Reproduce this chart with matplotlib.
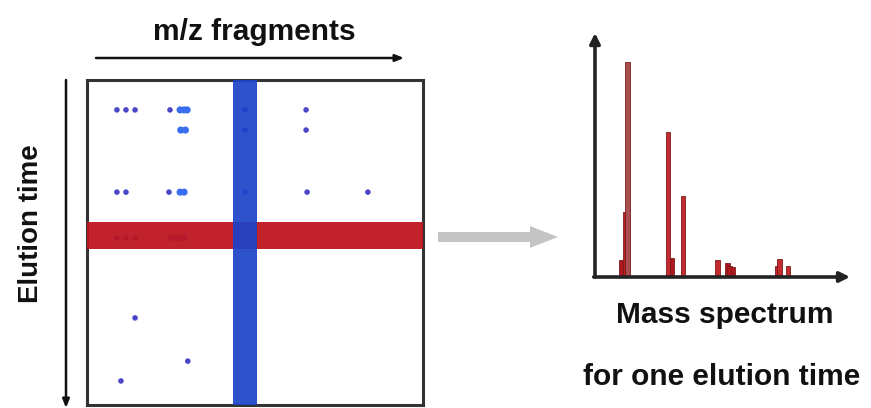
import matplotlib
matplotlib.use("Agg")
import matplotlib.pyplot as plt
from matplotlib.patches import FancyArrow

plt.rcParams['font.family'] = ['Liberation Sans', 'DejaVu Sans']

# ---- data ----
# 2D map: peaks (m/z position, elution time), both in 0-100 arbitrary units
dot_mz = [8.9, 11.6, 14.3, 24.7, 65.2, 65.2, 8.9, 11.6, 24.4, 65.5, 83.6,
          8.9, 11.6, 14.3, 14.3, 30.0, 10.1, 47.0, 47.0, 47.0]
dot_time = [9.2, 9.2, 9.2, 9.2, 9.2, 15.4, 34.5, 34.5, 34.5, 34.5, 34.5,
            48.6, 48.6, 48.6, 73.2, 86.5, 92.6, 9.2, 15.4, 34.5]
bright_mz = [27.7, 28.9, 29.8, 27.9, 29.3, 27.7, 28.9, 25.0, 27.0, 28.9]
bright_time = [9.2, 9.2, 9.2, 15.4, 15.4, 34.5, 34.5, 48.6, 48.6, 48.6]

selected_mz = 47.0          # blue band (one m/z fragment)
selected_mz_width = 7.0
selected_time = 47.8        # red band (one elution time)
selected_time_width = 8.3

# Mass spectrum for one elution time
spec_mz = [10.2, 11.8, 12.9, 28.6, 30.2, 34.5, 48.2, 51.8, 52.9, 54.1, 71.4, 72.5, 75.7]
spec_int = [7.0, 26.6, 88.0, 59.4, 7.8, 33.2, 7.0, 5.7, 4.5, 4.1, 4.5, 7.4, 4.5]

W, H = 871, 408
fig = plt.figure(figsize=(W / 100, H / 100), dpi=100)

# overlay for annotations (pixel coordinates)
ov = fig.add_axes([0, 0, 1, 1])
ov.set_xlim(0, W)
ov.set_ylim(H, 0)
ov.axis('off')

# ---- left map ----
ax = fig.add_axes([87 / W, (H - 405) / H, 336 / W, 325 / H])
ax.set_xlim(0, 100)
ax.set_ylim(100, 0)
ax.set_xticks([])
ax.set_yticks([])
for s in ax.spines.values():
    s.set_linewidth(2.2)
    s.set_color('#333333')

ax.scatter(dot_mz, dot_time, s=16, color='#4a46c8', edgecolors='none', zorder=2)
ax.scatter(bright_mz, bright_time, s=26, color='#3a6ef0', edgecolors='none', zorder=2)
ax.axhspan(selected_time - selected_time_width / 2, selected_time + selected_time_width / 2,
           color='#be1620', alpha=0.95, lw=0, zorder=3)
ax.axvspan(selected_mz - selected_mz_width / 2, selected_mz + selected_mz_width / 2,
           color='#1c42c8', alpha=0.92, lw=0, zorder=4)

# ---- right spectrum ----
ax2 = fig.add_axes([595 / W, (H - 277) / H, 255 / W, 244 / H])
ax2.set_xlim(0, 100)
ax2.set_ylim(0, 100)
ax2.axis('off')
bar_colors = ['#b01820', '#b82028', '#a85050', '#c42a2e', '#b01820', '#c42a2e',
              '#c42a2e', '#b01820', '#b01820', '#b01820', '#c42a2e', '#c42a2e', '#c42a2e']
ax2.bar(spec_mz, spec_int, width=1.9, color=bar_colors, edgecolor='#7a1a1a', lw=0.6, zorder=2)
ax2.annotate('', xy=(0, 1.0), xytext=(0, 0), xycoords='axes fraction',
             arrowprops=dict(arrowstyle='-|>,head_length=0.6,head_width=0.3', lw=2.6,
                             color='#222222', shrinkA=0, shrinkB=0))
ax2.annotate('', xy=(1.0, 0), xytext=(-0.005, 0), xycoords='axes fraction',
             arrowprops=dict(arrowstyle='-|>,head_length=0.6,head_width=0.3', lw=2.6,
                             color='#222222', shrinkA=0, shrinkB=0))

# ---- annotations ----
ov.annotate('', xy=(404, 58), xytext=(96, 58),
            arrowprops=dict(arrowstyle='-|>,head_length=0.5,head_width=0.2', lw=1.8,
                            color='#111111', shrinkA=0, shrinkB=0))
ov.annotate('', xy=(66, 408), xytext=(66, 80),
            arrowprops=dict(arrowstyle='-|>,head_length=0.5,head_width=0.2', lw=1.8,
                            color='#111111', shrinkA=0, shrinkB=0))
ov.add_patch(FancyArrow(438, 237, 92, 0, width=10, head_width=22, head_length=28,
                        length_includes_head=False, color='#c4c4c4', lw=0))

ov.text(254, 40, 'm/z fragments', fontsize=21.5, fontweight='bold', ha='center',
        va='baseline', color='#111111')
ov.text(31, 224, 'Elution time', fontsize=20, fontweight='bold', ha='center',
        va='center', rotation=90, color='#111111')
ov.text(725, 323, 'Mass spectrum', fontsize=21.5, fontweight='bold', ha='center',
        va='baseline', color='#111111')
ov.text(722, 385, 'for one elution time', fontsize=21.5, fontweight='bold', ha='center',
        va='baseline', color='#111111')

fig.savefig('out.png', dpi=100)
